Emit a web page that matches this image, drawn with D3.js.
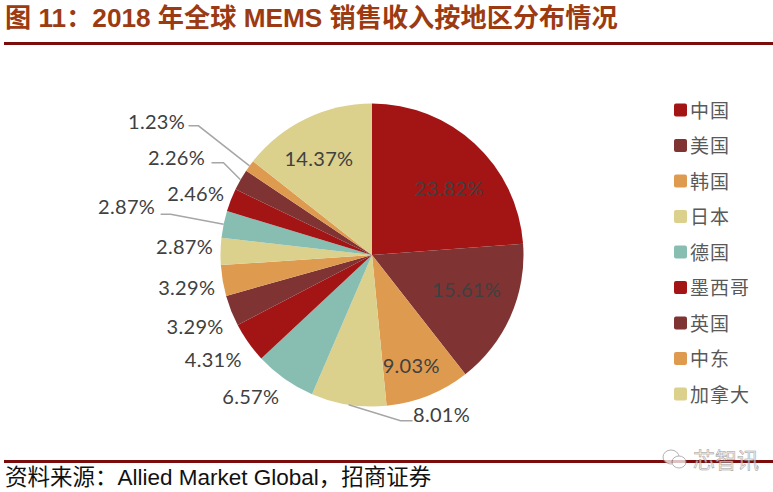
<!DOCTYPE html>
<html>
<head>
<meta charset="utf-8">
<script src="https://cdn.jsdelivr.net/npm/d3@7/dist/d3.min.js"></script>
<style>
  html, body { margin: 0; padding: 0; background: #fff; }
  svg { display: block; }
  .cjk { font-family: "Liberation Sans", "Noto Sans CJK SC", sans-serif; }
  .lbl { font-family: Lato, "Open Sans", sans-serif; font-size: 20px; fill: #404040; letter-spacing: .3px; }
  .leader { fill: none; stroke: #a6a6a6; stroke-width: 1.5; }
</style>
</head>
<body>
<svg id="chart" width="773" height="492"></svg>
<script>
var titleText = "图 11：2018 年全球 MEMS 销售收入按地区分布情况",
    sourceText = "资料来源：Allied Market Global，招商证券",
    markText = "芯智讯";

var legendNames = ["中国", "美国", "韩国", "日本", "德国", "墨西哥", "英国", "中东", "加拿大"];
var shares = [23.82, 15.61, 9.03, 8.01, 6.57, 4.31, 3.29, 3.29, 2.87, 2.87, 2.46, 2.26, 1.23, 14.37];
var palette = ["#a31515", "#7f3333", "#de9b50", "#dbd08c", "#88bdb2"];

// label offset from the slice's outer edge
var labelShift = [[-26, 44], [-44, -27], [-17, -31], [93, 9], [-34, 17], [-35, 17], [-36, 15],
                  [-36, 6], [-36, -5], [-97, -18], [-35, -7], [-64, -23], [-93, -45], [13, 39]];
// leader elbows, same offsets, only where the label was pulled away
var leaders = {
  3: [[52, 16], [64, 16]],
  9: [[-53, -10], [-63, -10]],
  11: [[-17, -17], [-29, -17]],
  12: [[-51, -40], [-61, -40]]
};

var svg = d3.select("#chart");
var cx = 372, cy = 255, radius = 151.5;

svg.append("text").attr("class", "cjk")
  .attr("x", 5).attr("y", 27)
  .attr("font-size", 26.2).attr("font-weight", "bold").attr("fill", "#9c3a12")
  .text(titleText);

svg.append("rect").attr("x", 4).attr("y", 42).attr("width", 769).attr("height", 3).attr("fill", "#7a0c0c");
svg.append("rect").attr("x", 4).attr("y", 460).attr("width", 769).attr("height", 3).attr("fill", "#7a0c0c");

svg.append("text").attr("class", "cjk")
  .attr("x", 5).attr("y", 485)
  .attr("font-size", 22.5).attr("fill", "#111")
  .text(sourceText);

// watermark
var mark = svg.append("g").attr("opacity", 0.75);
mark.append("ellipse").attr("cx", 671).attr("cy", 457).attr("rx", 8).attr("ry", 7)
  .attr("fill", "#fff").attr("stroke", "#999").attr("stroke-width", 1);
mark.append("ellipse").attr("cx", 679).attr("cy", 462).attr("rx", 7).attr("ry", 6)
  .attr("fill", "#fff").attr("stroke", "#999").attr("stroke-width", 1);
mark.append("text").attr("x", 693).attr("y", 468)
  .attr("font-family", "Noto Sans CJK SC").attr("font-size", 22).attr("fill", "#eee")
  .attr("stroke", "#777").attr("stroke-width", .5)
  .text(markText);

var pie = d3.pie().value(function(d) { return d; }).sort(null);
var arc = d3.arc().innerRadius(0).outerRadius(radius);
var edge = d3.arc().innerRadius(radius).outerRadius(radius);
var slices = pie(shares);

var g = svg.append("g").attr("transform", "translate(" + cx + "," + cy + ")");

g.selectAll("path.slice")
  .data(slices)
  .enter().append("path")
    .attr("class", "slice")
    .attr("d", arc)
    .attr("fill", function(d, i) { return palette[i % palette.length]; });

var line = d3.line();
Object.keys(leaders).forEach(function(k) {
  var p = edge.centroid(slices[k]);
  var pts = [p].concat(leaders[k].map(function(o) { return [p[0] + o[0], p[1] + o[1]]; }));
  g.append("path").attr("class", "leader").attr("d", line(pts));
});

g.selectAll("text.lbl")
  .data(slices)
  .enter().append("text")
    .attr("class", "lbl")
    .attr("text-anchor", "middle")
    .attr("dominant-baseline", "central")
    .attr("x", function(d, i) { return edge.centroid(d)[0] + labelShift[i][0]; })
    .attr("y", function(d, i) { return edge.centroid(d)[1] + labelShift[i][1]; })
    .text(function(d) { return d.value.toFixed(2) + "%"; });

// legend
var legendY = d3.scaleLinear().domain([0, legendNames.length - 1]).range([110, 394]);
var items = svg.selectAll("g.item")
  .data(legendNames)
  .enter().append("g")
    .attr("class", "item")
    .attr("transform", function(d, i) { return "translate(674," + legendY(i) + ")"; });
items.append("rect")
  .attr("x", 0).attr("y", -6.5).attr("width", 13).attr("height", 13).attr("rx", 2)
  .attr("fill", function(d, i) { return palette[i % palette.length]; });
items.append("text")
  .attr("x", 16).attr("y", -1).attr("dominant-baseline", "central")
  .attr("font-family", "Noto Sans CJK SC").attr("font-size", 19).attr("fill", "#595959")
  .attr("letter-spacing", 1)
  .text(function(d) { return d; });
</script>
</body>
</html>
